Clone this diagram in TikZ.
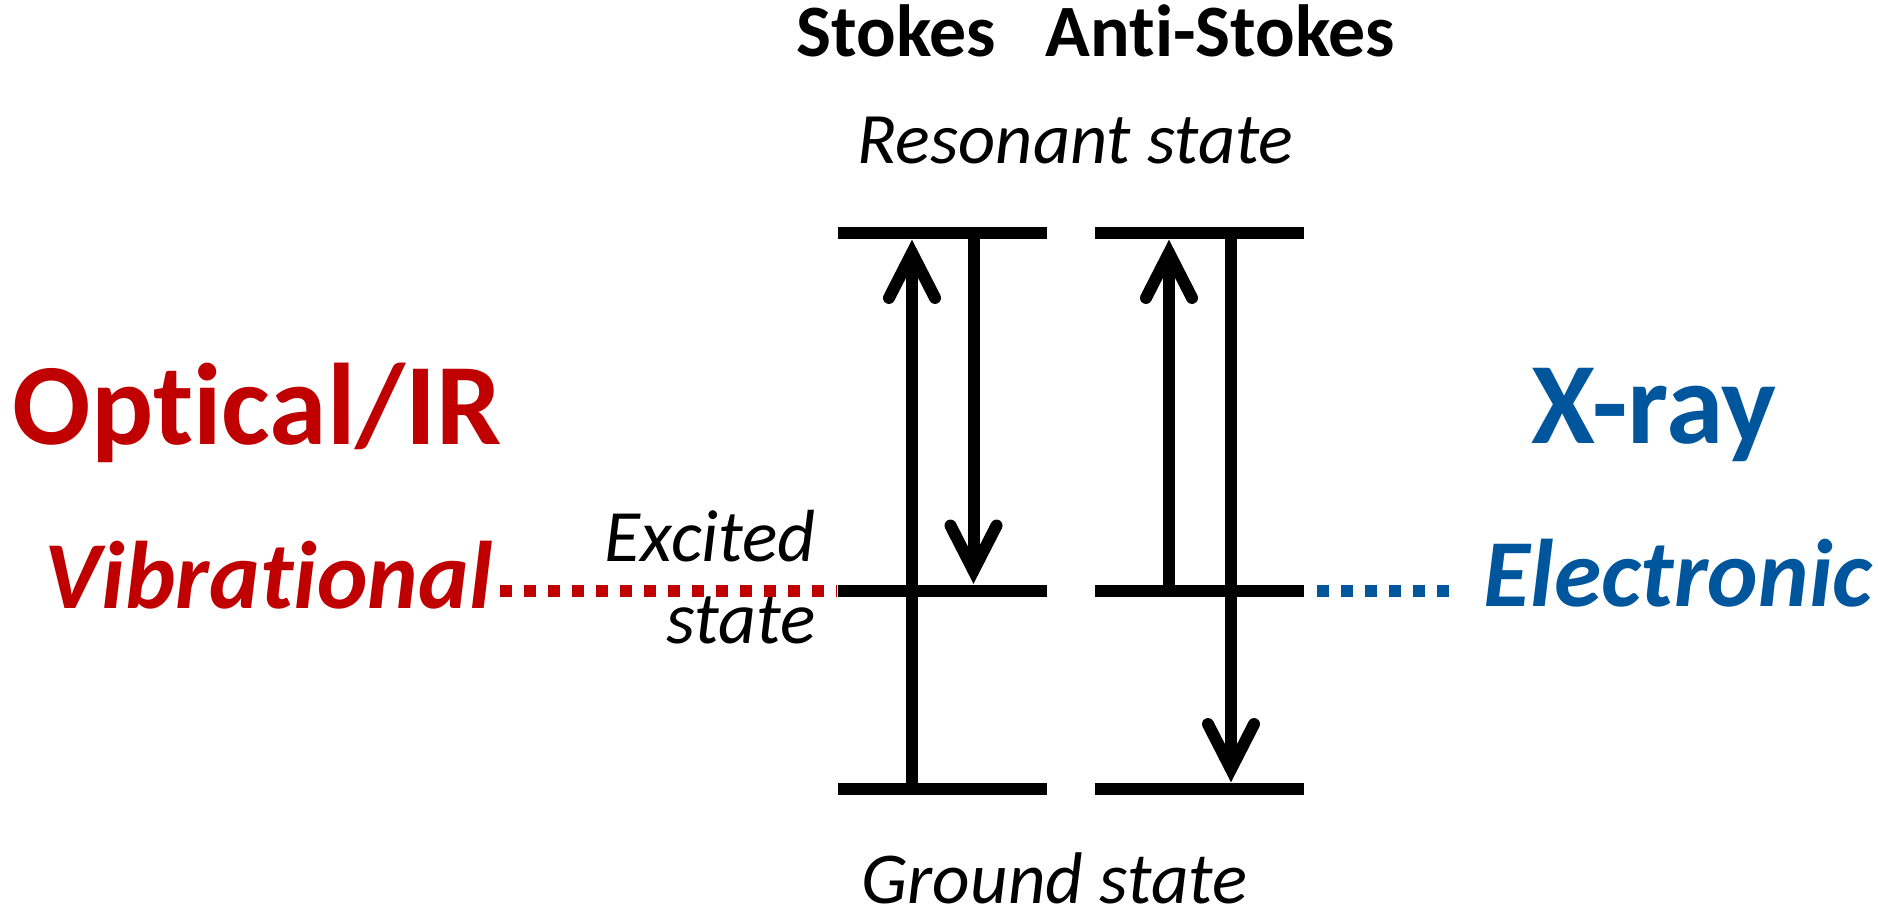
\documentclass[tikz,border=0pt]{standalone}
\usepackage{fontspec}
\setmainfont{Carlito}[Ligatures=NoCommon]
\usetikzlibrary{arrows.meta}
\definecolor{darkred}{RGB}{192,0,0}
\definecolor{xblue}{RGB}{0,86,157}
\tikzset{
  level/.style={fill=black, draw=none, minimum width=2.09cm, minimum height=0.12cm, inner sep=0pt},
  trans/.style={line width=0.12cm, -{Straight Barb[length=0.45cm,width=0.46cm,line cap=round,line join=miter]}},
  dots/.style={line width=0.12cm, dash pattern=on 0.12cm off 0.12cm},
  lbl/.style={inner sep=0pt, anchor=base west, text depth=0pt},
  big/.style={lbl, font=\fontsize{33}{36}\selectfont\bfseries},
  mid/.style={lbl, font=\fontsize{27.3}{32}\selectfont\bfseries\itshape},
  small/.style={lbl, font=\fontsize{20.6}{24}\selectfont\itshape},
  head/.style={lbl, font=\fontsize{21}{24}\selectfont\bfseries},
}
\begin{document}
\begin{tikzpicture}[x=0.01cm, y=-0.01cm]
\useasboundingbox (0,0) rectangle (1878,909);
% level lines
\node[level] (r1) at (942.5,233) {};
\node[level] (r2) at (1199.5,233) {};
\node[level] (e1) at (942.5,590.5) {};
\node[level] (e2) at (1199.5,590.5) {};
\node[level] (g1) at (942.5,789) {};
\node[level] (g2) at (1199.5,789) {};
% arrow columns
\coordinate (c1) at (912,0);
\coordinate (c2) at (973.5,0);
\coordinate (c3) at (1169,0);
\coordinate (c4) at (1231,0);
% transitions
\draw[trans] (c1 |- g1.center) -- (c1 |- r1.south);
\draw[trans] (c2 |- r1.center) -- (c2 |- e1.north);
\draw[trans] (c3 |- e2.center) -- (c3 |- r2.south);
\draw[trans] (c4 |- r2.center) -- (c4 |- g2.north);
% labels
\node[head] (stokes) at (796,57) {Stokes};
\node[head] (astokes) at (1045,57) {Anti-Stokes};
\node[small] (res) at (857,163) {Resonant state};
\node[small, font=\fontsize{21}{24}\selectfont\itshape] (exc) at (604,561) {Excited};
\node[small, font=\fontsize{21}{24}\selectfont\itshape] (exc2) at (666,643) {state};
\node[lbl, font=\fontsize{20.8}{24}\selectfont\itshape] (gnd) at (861,903) {Ground state};
\node[big, text=darkred] (opt) at (12,444) {Optical/IR};
\node[big, text=xblue] (xray) at (1531,443) {X-ray};
\node[mid, text=darkred] (vib) at (44,608) {Vibrational};
\node[mid, text=xblue] (elec) at (1483,606) {Electronic};
% dotted connections
\coordinate (rd1) at (500,590.5);
\coordinate (bd1) at (1317,590.5);
\draw[dots, darkred] (rd1) -- (rd1 -| e1.west);
\draw[dots, xblue] (bd1) -- (1449,590.5);
\end{tikzpicture}
\end{document}
